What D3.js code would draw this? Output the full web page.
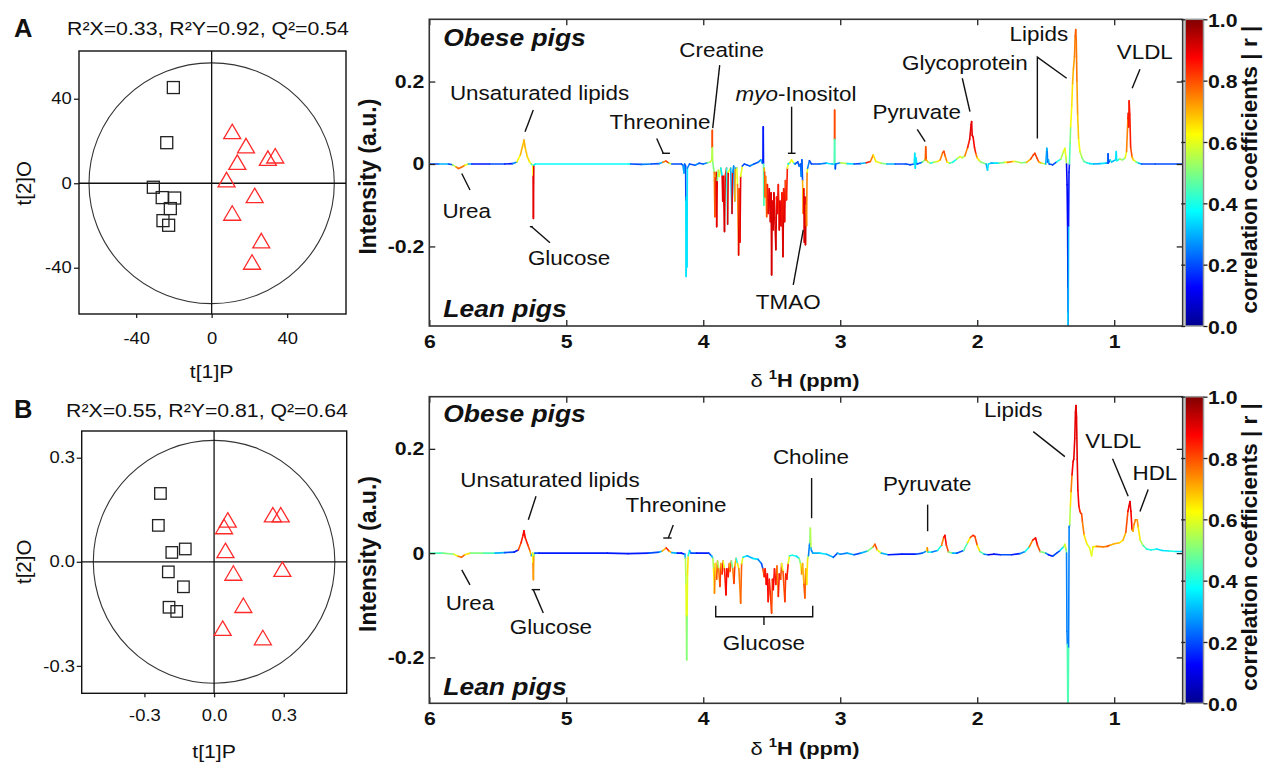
<!DOCTYPE html>
<html><head><meta charset="utf-8">
<script src="https://cdn.jsdelivr.net/npm/d3@7"></script>
<style>
body{margin:0;background:#fff;}
svg{display:block;font-family:"Liberation Sans",Arial,Helvetica,sans-serif;}
</style></head><body>
<svg id="fig" width="1264" height="763"></svg>
<script>
// ================= DATA =================
const statsA = "R²X=0.33, R²Y=0.92, Q²=0.54";
const statsB = "R²X=0.55, R²Y=0.81, Q²=0.64";
// OPLS-DA scores [t[1]P, t[2]O]
const scoreA_lean = [[-20.3,45.3],[-23.8,19.2],[-30.9,-1.9],[-26.2,-6.8],[-19.6,-7.0],[-21.9,-12.0],[-25.8,-17.7],[-22.8,-19.9]];
const scoreA_obese = [[10.9,24.4],[18.2,17.7],[13.6,9.9],[29.8,11.8],[33.7,12.9],[7.9,1.6],[22.8,-5.9],[10.9,-14.2],[26.3,-27.3],[21.4,-37.4]];
const scoreB_lean = [[-0.231,0.197],[-0.240,0.105],[-0.182,0.027],[-0.124,0.037],[-0.197,-0.029],[-0.132,-0.072],[-0.194,-0.131],[-0.161,-0.143]];
const scoreB_obese = [[0.059,0.120],[0.043,0.101],[0.253,0.135],[0.287,0.135],[0.049,0.032],[0.083,-0.033],[0.294,-0.022],[0.126,-0.126],[0.037,-0.192],[0.210,-0.219]];
const ellipseA = [65, 57];      // Hotelling T2 semi-axes (t1, t2)
const ellipseB = [0.52, 0.35];
const scoreTicksA = [-40, 0, 40];
const scoreTicksB = [-0.3, 0, 0.3];
const ppmTicks = [6, 5, 4, 3, 2, 1];
const intensityTicks = [-0.2, 0, 0.2];
const colorbarTicks = [0, 0.2, 0.4, 0.6, 0.8, 1.0];
const jetDomain = [0, 0.125, 0.375, 0.625, 0.875, 1];
const jetColors = ["#00008f", "#0000ff", "#00ffff", "#ffff00", "#ff0000", "#800000"];

// loading spectra: [ppm, intensity, |r|]
const spectrumA = [
[6.000,0.000,0.20],[5.930,0.000,0.30],[5.860,0.000,0.20],[5.830,-0.002,0.55],[5.805,-0.007,0.75],[5.788,-0.011,0.78],
[5.765,-0.008,0.75],[5.740,-0.003,0.60],[5.715,0.000,0.30],[5.690,0.000,0.15],[5.560,0.000,0.20],[5.450,0.000,0.15],
[5.390,0.001,0.25],[5.360,0.005,0.62],[5.335,0.022,0.70],[5.318,0.045,0.68],[5.309,0.058,0.70],[5.300,0.040,0.68],
[5.285,0.018,0.66],[5.268,0.005,0.60],[5.255,0.000,0.45],[5.245,-0.004,0.62],[5.242,-0.030,0.90],[5.240,-0.132,0.90],
[5.237,-0.003,0.38],[5.225,0.000,0.38],[4.540,0.000,0.38],[4.530,0.000,0.20],[4.450,-0.001,0.25],[4.380,0.000,0.20],
[4.320,0.001,0.30],[4.295,0.004,0.75],[4.272,0.007,0.82],[4.250,0.002,0.55],[4.230,0.000,0.20],[4.160,0.000,0.20],
[4.148,-0.003,0.25],[4.141,-0.022,0.30],[4.136,0.000,0.20],[4.129,-0.005,0.20],[4.127,-0.090,0.35],[4.125,-0.273,0.35],
[4.122,-0.080,0.35],[4.119,-0.250,0.35],[4.116,-0.010,0.25],[4.100,0.000,0.20],[4.060,-0.003,0.25],[4.030,0.002,0.20],
[4.000,0.000,0.25],[3.970,0.003,0.50],[3.948,0.005,0.60],[3.938,0.010,0.55],[3.935,0.040,0.80],[3.934,0.082,0.80],
[3.933,0.040,0.55],[3.931,0.005,0.50],[3.925,-0.010,0.50],[3.920,-0.020,0.75],[3.915,-0.128,0.80],[3.912,-0.030,0.60],
[3.905,-0.020,0.90],[3.902,-0.152,0.90],[3.898,-0.040,0.50],[3.890,-0.015,0.55],[3.884,-0.030,0.60],[3.872,-0.010,0.35],
[3.862,-0.030,0.90],[3.858,-0.090,0.90],[3.854,-0.030,0.90],[3.845,-0.164,0.92],[3.840,-0.030,0.85],[3.830,-0.010,0.40],
[3.822,-0.146,0.90],[3.818,-0.020,0.60],[3.800,-0.010,0.30],[3.790,-0.120,0.90],[3.786,-0.020,0.30],[3.778,-0.005,0.25],
[3.770,-0.090,0.70],[3.766,-0.010,0.30],[3.755,-0.010,0.60],[3.750,-0.050,0.75],[3.742,-0.221,0.90],[3.737,-0.060,0.80],
[3.732,-0.190,0.90],[3.727,-0.030,0.60],[3.715,-0.005,0.20],[3.700,0.000,0.20],[3.660,-0.005,0.25],[3.630,0.000,0.20],
[3.600,0.004,0.25],[3.580,0.010,0.30],[3.568,0.002,0.20],[3.564,0.010,0.15],[3.562,0.090,0.15],[3.560,0.000,0.45],
[3.558,-0.100,0.45],[3.556,-0.010,0.70],[3.552,-0.020,0.80],[3.548,-0.080,0.80],[3.545,-0.030,0.75],[3.537,-0.128,0.80],
[3.532,-0.050,0.85],[3.525,-0.120,0.90],[3.518,-0.060,0.90],[3.510,-0.140,0.92],[3.505,-0.070,0.90],[3.501,-0.269,0.92],
[3.497,-0.090,0.90],[3.490,-0.160,0.92],[3.484,-0.070,0.90],[3.478,-0.130,0.90],[3.470,-0.208,0.92],[3.465,-0.080,0.85],
[3.458,-0.120,0.90],[3.452,-0.050,0.85],[3.445,-0.160,0.90],[3.440,-0.090,0.90],[3.432,-0.150,0.90],[3.425,-0.070,0.85],
[3.418,-0.225,0.92],[3.413,-0.060,0.85],[3.406,-0.140,0.90],[3.400,-0.040,0.80],[3.392,-0.087,0.85],[3.386,-0.010,0.60],
[3.380,0.000,0.35],[3.368,0.003,0.60],[3.355,0.010,0.62],[3.340,0.002,0.40],[3.330,0.000,0.20],[3.310,0.005,0.20],
[3.300,-0.005,0.25],[3.290,0.000,0.20],[3.285,-0.030,0.30],[3.280,0.010,0.20],[3.275,-0.040,0.70],[3.270,-0.120,0.80],
[3.266,-0.060,0.90],[3.262,-0.190,0.92],[3.258,-0.080,0.90],[3.254,-0.196,0.92],[3.250,-0.100,0.75],[3.246,-0.150,0.75],
[3.242,-0.020,0.60],[3.238,-0.010,0.25],[3.225,0.008,0.20],[3.210,0.000,0.20],[3.150,0.000,0.25],[3.100,0.002,0.35],
[3.060,0.000,0.30],[3.044,0.000,0.45],[3.042,0.060,0.80],[3.041,0.131,0.80],[3.040,0.060,0.45],[3.039,0.000,0.30],
[3.036,-0.012,0.20],[3.033,0.000,0.25],[3.000,0.003,0.55],[2.950,0.001,0.35],[2.900,0.000,0.20],[2.850,0.001,0.30],
[2.810,0.003,0.85],[2.780,0.006,0.75],[2.759,0.022,0.65],[2.740,0.006,0.60],[2.700,0.002,0.50],[2.660,0.000,0.30],
[2.600,0.000,0.20],[2.520,0.000,0.20],[2.490,-0.002,0.20],[2.460,0.000,0.35],[2.456,0.026,0.35],[2.452,-0.010,0.35],
[2.448,0.015,0.35],[2.440,0.000,0.20],[2.420,0.002,0.25],[2.400,0.005,0.50],[2.380,0.010,0.75],[2.376,0.042,0.80],
[2.372,0.010,0.70],[2.360,0.005,0.55],[2.340,0.002,0.40],[2.320,0.004,0.55],[2.290,0.006,0.65],[2.270,0.010,0.75],
[2.252,0.028,0.80],[2.243,0.031,0.80],[2.235,0.020,0.75],[2.220,0.005,0.60],[2.200,0.002,0.45],[2.180,0.004,0.40],
[2.150,0.012,0.55],[2.127,0.018,0.60],[2.110,0.015,0.55],[2.090,0.020,0.75],[2.070,0.040,0.85],[2.055,0.060,0.90],
[2.045,0.095,0.90],[2.041,0.103,0.90],[2.037,0.070,0.90],[2.030,0.065,0.88],[2.020,0.040,0.85],[2.010,0.025,0.75],
[2.000,0.015,0.65],[1.985,0.008,0.55],[1.970,0.004,0.50],[1.935,0.000,0.30],[1.925,-0.015,0.35],[1.918,0.000,0.35],
[1.900,0.002,0.30],[1.880,0.002,0.35],[1.840,0.002,0.50],[1.800,0.004,0.60],[1.780,0.004,0.75],[1.740,0.006,0.65],
[1.720,0.006,0.55],[1.680,0.003,0.50],[1.640,0.004,0.70],[1.610,0.012,0.80],[1.590,0.022,0.82],[1.579,0.026,0.82],
[1.565,0.015,0.80],[1.550,0.005,0.70],[1.530,0.002,0.55],[1.500,0.000,0.30],[1.492,0.038,0.30],[1.489,0.030,0.25],
[1.486,0.005,0.20],[1.480,0.010,0.30],[1.475,0.000,0.20],[1.450,-0.002,0.20],[1.420,0.005,0.40],[1.390,0.012,0.55],
[1.370,0.030,0.60],[1.360,0.038,0.60],[1.352,0.015,0.55],[1.348,0.000,0.12],[1.344,-0.050,0.12],[1.340,-0.160,0.10],
[1.338,-0.300,0.20],[1.337,-0.360,0.35],[1.336,-0.394,0.30],[1.333,-0.150,0.15],[1.330,-0.020,0.15],[1.327,0.000,0.45],
[1.322,0.050,0.50],[1.318,0.090,0.62],[1.310,0.140,0.65],[1.304,0.195,0.70],[1.298,0.230,0.72],[1.290,0.260,0.75],
[1.285,0.310,0.78],[1.281,0.326,0.78],[1.277,0.300,0.76],[1.272,0.200,0.72],[1.267,0.120,0.68],[1.260,0.060,0.62],
[1.250,0.030,0.55],[1.235,0.015,0.50],[1.220,0.006,0.45],[1.200,0.003,0.40],[1.180,0.001,0.35],[1.150,0.000,0.30],
[1.100,0.001,0.35],[1.060,0.002,0.30],[1.048,0.002,0.25],[1.045,0.025,0.20],[1.043,0.002,0.20],[1.030,0.010,0.40],
[1.020,0.005,0.30],[0.990,0.010,0.35],[0.985,0.030,0.35],[0.982,0.008,0.40],[0.960,0.012,0.55],[0.940,0.010,0.50],
[0.920,0.015,0.60],[0.910,0.030,0.75],[0.900,0.110,0.85],[0.897,0.123,0.85],[0.894,0.090,0.85],[0.891,0.153,0.85],
[0.886,0.120,0.85],[0.880,0.040,0.80],[0.870,0.018,0.70],[0.860,0.010,0.60],[0.840,0.005,0.45],[0.820,0.002,0.30],
[0.800,0.000,0.20],[0.700,0.000,0.20],[0.500,0.000,0.20]
];
const spectrumB = [
[6.000,0.000,0.45],[5.900,0.000,0.50],[5.820,-0.002,0.60],[5.790,-0.006,0.75],[5.766,-0.008,0.78],[5.740,-0.003,0.65],
[5.700,0.000,0.50],[5.600,0.000,0.45],[5.520,0.000,0.30],[5.450,0.001,0.20],[5.380,0.002,0.15],[5.350,0.006,0.80],
[5.330,0.020,0.85],[5.315,0.035,0.88],[5.309,0.043,0.88],[5.300,0.030,0.85],[5.280,0.015,0.80],[5.265,0.004,0.70],
[5.255,-0.005,0.30],[5.245,0.000,0.62],[5.243,-0.020,0.75],[5.240,-0.051,0.72],[5.237,-0.005,0.50],[5.230,0.000,0.20],
[5.200,0.000,0.15],[4.700,0.000,0.15],[4.550,-0.001,0.15],[4.400,0.000,0.20],[4.320,0.002,0.30],[4.300,0.004,0.70],
[4.270,0.010,0.85],[4.250,0.004,0.70],[4.230,0.001,0.30],[4.190,0.000,0.15],[4.160,0.000,0.15],[4.135,-0.002,0.30],
[4.130,-0.010,0.55],[4.126,-0.060,0.60],[4.124,-0.120,0.55],[4.121,-0.205,0.50],[4.118,-0.120,0.60],[4.115,-0.040,0.65],
[4.110,-0.005,0.40],[4.100,0.005,0.30],[4.090,0.000,0.20],[4.050,0.000,0.15],[3.960,0.000,0.20],[3.940,-0.005,0.30],
[3.930,-0.010,0.55],[3.925,-0.030,0.65],[3.918,-0.077,0.75],[3.912,-0.020,0.65],[3.902,-0.050,0.80],[3.896,-0.015,0.55],
[3.888,-0.030,0.75],[3.878,-0.064,0.82],[3.872,-0.020,0.70],[3.862,-0.040,0.85],[3.855,-0.015,0.60],[3.845,-0.030,0.85],
[3.834,-0.080,0.88],[3.828,-0.030,0.85],[3.818,-0.045,0.85],[3.810,-0.020,0.70],[3.805,-0.035,0.80],[3.795,-0.015,0.50],
[3.785,-0.030,0.75],[3.776,-0.058,0.82],[3.770,-0.025,0.70],[3.760,-0.010,0.40],[3.750,-0.020,0.65],[3.740,-0.030,0.75],
[3.727,-0.096,0.78],[3.720,-0.020,0.60],[3.710,-0.008,0.35],[3.680,-0.005,0.30],[3.640,-0.010,0.35],[3.600,-0.012,0.25],
[3.575,-0.020,0.20],[3.565,-0.030,0.80],[3.555,-0.045,0.85],[3.548,-0.030,0.85],[3.540,-0.060,0.88],[3.532,-0.040,0.88],
[3.526,-0.093,0.85],[3.518,-0.050,0.85],[3.510,-0.080,0.82],[3.501,-0.115,0.80],[3.495,-0.050,0.85],[3.489,-0.070,0.88],
[3.480,-0.030,0.85],[3.470,-0.060,0.85],[3.462,-0.025,0.75],[3.452,-0.083,0.85],[3.445,-0.040,0.85],[3.435,-0.050,0.80],
[3.428,-0.020,0.60],[3.418,-0.035,0.80],[3.404,-0.093,0.82],[3.398,-0.040,0.85],[3.390,-0.050,0.85],[3.380,-0.020,0.60],
[3.370,-0.005,0.40],[3.350,-0.004,0.40],[3.320,-0.006,0.35],[3.300,-0.010,0.50],[3.290,-0.020,0.60],[3.282,-0.040,0.75],
[3.275,-0.020,0.70],[3.265,-0.060,0.80],[3.258,-0.086,0.78],[3.252,-0.030,0.70],[3.245,-0.060,0.65],[3.238,-0.010,0.55],
[3.232,-0.005,0.25],[3.225,0.015,0.25],[3.222,0.020,0.50],[3.218,0.048,0.55],[3.214,0.010,0.30],[3.210,0.005,0.25],
[3.200,0.000,0.30],[3.150,0.000,0.35],[3.100,-0.002,0.30],[3.050,-0.008,0.20],[3.020,0.000,0.30],[3.000,-0.002,0.25],
[2.950,0.000,0.30],[2.900,-0.003,0.20],[2.850,0.000,0.30],[2.800,0.004,0.50],[2.760,0.012,0.75],[2.747,0.017,0.80],
[2.730,0.006,0.60],[2.700,0.000,0.30],[2.650,-0.003,0.15],[2.550,-0.002,0.15],[2.450,-0.002,0.20],[2.400,0.000,0.25],
[2.370,0.004,0.60],[2.365,0.010,0.75],[2.360,0.002,0.40],[2.330,0.002,0.25],[2.290,0.005,0.40],[2.260,0.015,0.75],
[2.245,0.030,0.85],[2.236,0.034,0.88],[2.225,0.015,0.80],[2.210,0.002,0.50],[2.180,0.000,0.30],[2.150,0.000,0.20],
[2.100,0.005,0.45],[2.070,0.020,0.65],[2.050,0.030,0.80],[2.030,0.034,0.85],[2.017,0.032,0.80],[2.000,0.015,0.65],
[1.980,0.003,0.45],[1.950,-0.002,0.25],[1.920,-0.003,0.10],[1.880,-0.002,0.15],[1.830,-0.003,0.20],[1.750,-0.003,0.15],
[1.690,-0.001,0.25],[1.650,0.003,0.40],[1.620,0.012,0.75],[1.595,0.025,0.85],[1.574,0.029,0.88],[1.560,0.015,0.80],
[1.540,0.003,0.50],[1.500,0.000,0.25],[1.480,-0.003,0.15],[1.450,-0.006,0.20],[1.420,0.000,0.20],[1.396,0.005,0.35],
[1.370,0.012,0.50],[1.360,0.017,0.60],[1.352,0.008,0.50],[1.348,0.000,0.25],[1.345,-0.150,0.25],[1.342,-0.175,0.45],
[1.339,-0.288,0.45],[1.336,-0.288,0.45],[1.333,-0.180,0.25],[1.329,0.050,0.25],[1.325,0.054,0.55],[1.320,0.090,0.65],
[1.315,0.118,0.75],[1.308,0.150,0.88],[1.300,0.176,0.90],[1.295,0.180,0.90],[1.288,0.220,0.90],[1.283,0.270,0.90],
[1.279,0.283,0.90],[1.275,0.260,0.90],[1.270,0.180,0.90],[1.265,0.120,0.88],[1.258,0.090,0.85],[1.250,0.080,0.82],
[1.245,0.077,0.82],[1.238,0.075,0.80],[1.232,0.060,0.75],[1.220,0.035,0.65],[1.200,0.018,0.60],[1.180,0.010,0.60],
[1.165,-0.005,0.60],[1.155,0.012,0.65],[1.130,0.013,0.75],[1.080,0.012,0.75],[1.050,0.013,0.80],[1.030,0.015,0.70],
[1.000,0.018,0.70],[0.960,0.020,0.65],[0.935,0.025,0.70],[0.915,0.040,0.80],[0.900,0.080,0.88],[0.892,0.090,0.90],
[0.885,0.099,0.90],[0.878,0.080,0.88],[0.870,0.045,0.75],[0.862,0.042,0.70],[0.855,0.055,0.75],[0.845,0.064,0.75],
[0.832,0.064,0.72],[0.825,0.050,0.65],[0.810,0.025,0.55],[0.790,0.015,0.45],[0.764,0.008,0.40],[0.730,0.006,0.40],
[0.690,0.008,0.35],[0.650,0.005,0.35],[0.600,0.004,0.40],[0.550,0.003,0.35],[0.500,0.003,0.35]
];

// metabolite annotations (anchor in ppm / intensity)
const labelsA = [
 {text:"Unsaturated lipids", ppm:5.195, value:0.156},
 {text:"Urea", ppm:5.727, value:-0.131},
 {text:"Glucose", ppm:4.980, value:-0.244},
 {text:"Threonine", ppm:4.316, value:0.086},
 {text:"Creatine", ppm:3.866, value:0.259},
 {text:"-Inositol", ppm:3.323, value:0.154, italic:"myo"},
 {text:"TMAO", ppm:3.380, value:-0.351},
 {text:"Pyruvate", ppm:2.442, value:0.110},
 {text:"Glycoprotein", ppm:2.090, value:0.228},
 {text:"Lipids", ppm:1.550, value:0.298},
 {text:"VLDL", ppm:0.777, value:0.255}
];
const leadersA = [
 [[5.241,0.131],[5.301,0.078]],
 [[5.763,-0.023],[5.703,-0.063]],
 [[5.266,-0.152],[5.245,-0.152]], [[5.253,-0.152],[5.119,-0.191]],
 [[4.340,0.062],[4.292,0.026]], [[4.300,0.026],[4.243,0.026]],
 [[3.880,0.240],[3.931,0.087]],
 [[3.355,0.139],[3.355,0.026]], [[3.382,0.026],[3.326,0.026]],
 [[3.343,-0.293],[3.270,-0.160]],
 [[2.438,0.084],[2.380,0.054]],
 [[2.109,0.208],[2.053,0.127]],
 [[1.561,0.062],[1.561,0.259],[1.347,0.208]],
 [[0.812,0.230],[0.869,0.184]]
];
const labelsB = [
 {text:"Unsaturated lipids", ppm:5.119, value:0.126},
 {text:"Urea", ppm:5.703, value:-0.109},
 {text:"Glucose", ppm:5.112, value:-0.156},
 {text:"Threonine", ppm:4.199, value:0.078},
 {text:"Glucose", ppm:3.557, value:-0.186},
 {text:"Choline", ppm:3.214, value:0.170},
 {text:"Pyruvate", ppm:2.365, value:0.119},
 {text:"Lipids", ppm:1.737, value:0.262},
 {text:"VLDL", ppm:1.007, value:0.202},
 {text:"HDL", ppm:0.703, value:0.140}
];
const leadersB = [
 [[5.221,0.109],[5.277,0.064]],
 [[5.763,-0.032],[5.703,-0.061]],
 [[5.253,-0.070],[5.192,-0.070]], [[5.241,-0.070],[5.168,-0.115]],
 [[4.219,0.054],[4.255,0.029]], [[4.292,0.029],[4.231,0.029]],
 [[3.909,-0.101],[3.909,-0.122],[3.201,-0.122],[3.201,-0.101]], [[3.557,-0.122],[3.557,-0.138]],
 [[3.209,0.144],[3.209,0.067]],
 [[2.362,0.093],[2.362,0.042]],
 [[1.591,0.233],[1.360,0.185]],
 [[1.012,0.181],[0.898,0.109]],
 [[0.752,0.122],[0.812,0.080]]
];

// ================= DRAWING =================
const svg = d3.select("#fig");
const SX = 1.15;                 // horizontal glyph stretch of the original
const jet = d3.scaleLinear().domain(jetDomain).range(jetColors).clamp(true);
const defs = svg.append("defs");
const grad = defs.append("linearGradient").attr("id","jetGrad")
  .attr("x1",0).attr("y1",1).attr("x2",0).attr("y2",0);
jetDomain.forEach((o,i)=>grad.append("stop").attr("offset",o).attr("stop-color",jetColors[i]));

function hText(g, x, y, s, size, o = {}) {
  return g.append("text")
    .attr("transform", `translate(${x},${y}) scale(${o.sx ?? SX},1)`)
    .attr("text-anchor", o.anchor || "middle")
    .attr("font-size", size)
    .attr("font-weight", o.weight || "normal")
    .attr("font-style", o.style || "normal")
    .attr("fill", "#111")
    .text(s);
}
function vText(g, x, y, s, size, o = {}) {
  return g.append("text")
    .attr("transform", `translate(${x},${y}) rotate(-90)`)
    .attr("text-anchor", "middle")
    .attr("font-size", size)
    .attr("font-weight", o.weight || "normal")
    .attr("fill", "#111")
    .text(s);
}
function styleAxis(sel, size, weight, side) {
  sel.select(".domain").remove();
  sel.attr("font-family", null).attr("font-size", null);
  sel.selectAll(".tick line").attr("stroke", "#222").attr("stroke-width", 1.3);
  sel.selectAll(".tick text").each(function(){
    const t = d3.select(this);
    t.attr("font-size", size).attr("font-weight", weight).attr("fill", "#111");
    if (side === "left" || side === "right") {
      const xv = +t.attr("x");
      t.attr("x", xv / SX);
    }
    t.attr("transform", `scale(${SX},1)`);
  });
}

function drawScore(c) {
  const g = svg.append("g");
  const x = d3.scaleLinear().domain(c.xd).range([c.x0, c.x1]);
  const y = d3.scaleLinear().domain(c.yd).range([c.y1, c.y0]);
  g.append("ellipse").attr("cx", x(0)).attr("cy", y(0))
    .attr("rx", x(c.ell[0]) - x(0)).attr("ry", y(0) - y(c.ell[1]))
    .attr("fill", "none").attr("stroke", "#333").attr("stroke-width", 1.1);
  g.append("line").attr("x1", x(0)).attr("x2", x(0)).attr("y1", c.y0).attr("y2", c.y1)
    .attr("stroke", "#111").attr("stroke-width", 1.3);
  g.append("line").attr("x1", c.x0).attr("x2", c.x1).attr("y1", y(0)).attr("y2", y(0))
    .attr("stroke", "#111").attr("stroke-width", 1.3);
  const ax = g.append("g").attr("transform", `translate(0,${c.y1})`)
    .call(d3.axisBottom(x).tickValues(c.ticks).tickSizeInner(4).tickSizeOuter(0).tickPadding(c.xPad).tickFormat(c.fmt));
  styleAxis(ax, 16, "normal", "bottom");
  const ay = g.append("g").attr("transform", `translate(${c.x0},0)`)
    .call(d3.axisLeft(y).tickValues(c.ticks).tickSizeInner(5).tickSizeOuter(0).tickPadding(c.yPad).tickFormat(c.fmt));
  styleAxis(ay, 16, "normal", "left");
  g.append("rect").attr("x", c.x0).attr("y", c.y0).attr("width", c.x1 - c.x0).attr("height", c.y1 - c.y0)
    .attr("fill", "none").attr("stroke", "#111").attr("stroke-width", 1.4);
  const s = c.sq / 2;
  g.selectAll("rect.lean").data(c.lean).join("rect").attr("class", "lean")
    .attr("x", d => x(d[0]) - s).attr("y", d => y(d[1]) - s).attr("width", c.sq).attr("height", c.sq)
    .attr("fill", "none").attr("stroke", "#222").attr("stroke-width", 1.3);
  g.selectAll("path.obese").data(c.obese).join("path").attr("class", "obese")
    .attr("d", d => `M${x(d[0])},${y(d[1]) - 7.5}L${x(d[0]) + 8.5},${y(d[1]) + 7}L${x(d[0]) - 8.5},${y(d[1]) + 7}Z`)
    .attr("fill", "none").attr("stroke", "#ff2a2a").attr("stroke-width", 1.3);
  hText(g, c.titleX, c.titleY, c.title, 18.5);
  hText(g, 14, c.titleY + 1.5, c.letter, 25, {anchor: "start", weight: "bold", sx: 1.02});
  hText(g, x(0), c.xlabY, "t[1]P", 18.5);
  vText(g, 31, y(0), "t[2]O", 20.5);
}

function drawSpectrum(c) {
  const g = svg.append("g");
  const x = d3.scaleLinear().domain([6, 0.5]).range([c.x0, c.x1]);
  const y = d3.scaleLinear().domain(c.yd).range([c.y1, c.y0]);
  const clipId = "clip" + c.id;
  defs.append("clipPath").attr("id", clipId).append("rect")
    .attr("x", c.x0).attr("y", c.y0).attr("width", c.x1 - c.x0).attr("height", c.y1 - c.y0);
  // spectrum coloured by |r|
  g.append("g").attr("clip-path", `url(#${clipId})`)
    .selectAll("line").data(d3.pairs(c.data)).join("line")
    .attr("x1", d => x(d[0][0])).attr("y1", d => y(d[0][1]))
    .attr("x2", d => x(d[1][0])).attr("y2", d => y(d[1][1]))
    .attr("stroke", d => jet(d[0][2])).attr("stroke-width", 1.6).attr("stroke-linecap", "round");
  // axes (inner ticks)
  const fmtY = d => d === 0 ? "0" : d.toFixed(1);
  const ab = g.append("g").attr("transform", `translate(0,${c.y1})`)
    .call(d3.axisBottom(x).tickValues(ppmTicks).tickSizeInner(-6).tickSizeOuter(0).tickPadding(8.5).tickFormat(d3.format("d")));
  styleAxis(ab, 18.5, "bold", "bottom");
  const at = g.append("g").attr("transform", `translate(0,${c.y0})`)
    .call(d3.axisTop(x).tickValues(ppmTicks).tickSizeInner(-6).tickSizeOuter(0).tickFormat(""));
  styleAxis(at, 10, "normal", "top");
  const al = g.append("g").attr("transform", `translate(${c.x0},0)`)
    .call(d3.axisLeft(y).tickValues(intensityTicks).tickSizeInner(-6).tickSizeOuter(0).tickPadding(5).tickFormat(fmtY));
  styleAxis(al, 18.5, "bold", "left");
  const ar = g.append("g").attr("transform", `translate(${c.x1},0)`)
    .call(d3.axisRight(y).tickValues(intensityTicks).tickSizeInner(-6).tickSizeOuter(0).tickFormat(""));
  styleAxis(ar, 10, "normal", "right");
  g.append("rect").attr("x", c.x0).attr("y", c.y0).attr("width", c.x1 - c.x0).attr("height", c.y1 - c.y0)
    .attr("fill", "none").attr("stroke", "#333").attr("stroke-width", 1.6);
  // leader lines
  const ln = d3.line().x(d => x(d[0])).y(d => y(d[1]));
  g.selectAll("path.lead").data(c.leaders).join("path").attr("class", "lead")
    .attr("d", ln).attr("fill", "none").attr("stroke", "#111").attr("stroke-width", 1.4);
  // labels
  c.labels.forEach(l => {
    const t = hText(g, x(l.ppm), y(l.value), "", 19.5);
    if (l.italic) t.append("tspan").attr("font-style", "italic").text(l.italic);
    t.append("tspan").text(l.text);
  });
  hText(g, c.x0 + 14, c.obeseY, "Obese pigs", 23, {anchor: "start", weight: "bold", style: "italic"});
  hText(g, c.x0 + 14, c.leanY, "Lean pigs", 23, {anchor: "start", weight: "bold", style: "italic"});
  const xt = hText(g, 805, c.xTitleY, "", 19, {weight: "bold"});
  xt.append("tspan").attr("font-weight", "normal").text("δ ");
  xt.append("tspan").attr("font-size", 13).attr("dy", -8).text("1");
  xt.append("tspan").attr("dy", 8).text("H (ppm)");
  vText(g, 376, (c.y0 + c.y1) / 2 + 4, "Intensity (a.u.)", 23, {weight: "bold"});
  // colour bar
  const cb = {x: c.x1 + 2.5, w: 18.3};
  const cy = d3.scaleLinear().domain([0, 1]).range([c.y1, c.y0]);
  g.append("rect").attr("x", cb.x).attr("y", c.y0).attr("width", cb.w).attr("height", c.y1 - c.y0)
    .attr("fill", "url(#jetGrad)").attr("stroke", "#999").attr("stroke-width", 1.5);
  const cl = g.append("g").attr("transform", `translate(${cb.x},0)`)
    .call(d3.axisLeft(cy).tickValues(colorbarTicks).tickSizeInner(4).tickSizeOuter(0).tickFormat(""));
  styleAxis(cl, 10, "normal", "left");
  const cr = g.append("g").attr("transform", `translate(${cb.x + cb.w},0)`)
    .call(d3.axisRight(cy).tickValues(colorbarTicks).tickSizeInner(4).tickSizeOuter(0).tickPadding(0.5).tickFormat(d => d.toFixed(1)));
  styleAxis(cr, 18.5, "bold", "right");
  cr.selectAll(".tick text").attr("dy", "0.38em");
  vText(g, 1257, (c.y0 + c.y1) / 2 - 3, "correlation coefficients | r |", 22.5, {weight: "bold"});
}

drawScore({x0:79, x1:346, y0:51, y1:314, xd:[-70.3,71.2], yd:[-61.9,62.6], ticks:scoreTicksA,
  fmt:d => String(d), ell:ellipseA, xPad:15, yPad:2.3, sq:12, lean:scoreA_lean, obese:scoreA_obese,
  title:statsA, titleX:208, titleY:35, letter:"A", xlabY:378});
drawScore({x0:81.7, x1:346.7, y0:431, y1:693.3, xd:[-0.57,0.571], yd:[-0.379,0.377], ticks:scoreTicksB,
  fmt:d => d.toFixed(1), ell:ellipseB, xPad:12.7, yPad:1.7, sq:11.5, lean:scoreB_lean, obese:scoreB_obese,
  title:statsB, titleX:207, titleY:416.7, letter:"B", xlabY:758});
drawSpectrum({id:"A", x0:429.3, x1:1182.7, y0:19.3, y1:326, yd:[-0.393,0.351], data:spectrumA,
  labels:labelsA, leaders:leadersA, obeseY:46, leanY:317, xTitleY:387});
drawSpectrum({id:"B", x0:429.3, x1:1182.7, y0:396.7, y1:703.3, yd:[-0.288,0.30], data:spectrumB,
  labels:labelsB, leaders:leadersB, obeseY:422, leanY:695, xTitleY:755});
</script>
</body></html>
